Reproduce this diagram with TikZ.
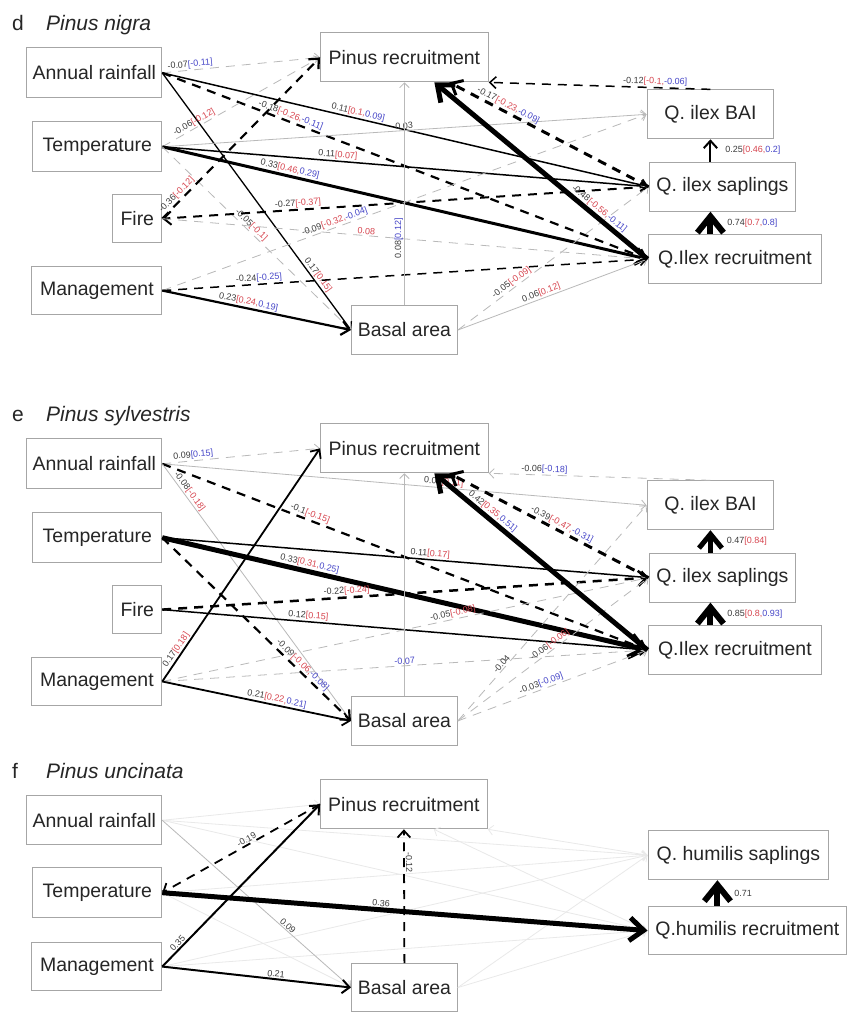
\documentclass[tikz,border=0pt]{standalone}
\usepackage{fontspec}
\setmainfont{Liberation Sans}
\usetikzlibrary{arrows.meta}
\definecolor{labk}{RGB}{60,60,60}
\definecolor{labr}{RGB}{215,70,80}
\definecolor{labb}{RGB}{70,70,200}
% coefficient label: estimate, then bracketed values in red and blue
\newcommand\lv[3]{\textcolor{labk}{#1}\textcolor{labr}{#2}\textcolor{labb}{#3}}
% the nine boxes shared by the Q. ilex panels
\newcommand\ilexnodes[1]{%
  \node[box,minimum width=135pt,minimum height=50pt] (#1AR) at (94.5,73) {Annual rainfall};
  \node[box,minimum width=129pt,minimum height=50pt] (#1T) at (97.5,147) {Temperature};
  \node[box,minimum width=49pt,minimum height=48pt] (#1F) at (137.5,219) {Fire};
  \node[box,minimum width=130pt,minimum height=48pt] (#1M) at (97,291) {Management};
  \node[box,minimum width=168pt,minimum height=49pt] (#1PR) at (405,57.5) {Pinus recruitment};
  \node[box,minimum width=106pt,minimum height=49pt] (#1BA) at (405,330.5) {Basal area};
  \node[box,minimum width=127pt,minimum height=49pt] (#1QB) at (711.5,114.5) {Q. ilex BAI};
  \node[box,minimum width=147pt,minimum height=49pt] (#1QS) at (723.5,187) {Q. ilex saplings};
  \node[box,minimum width=174pt,minimum height=49pt] (#1QR) at (736,259.5) {Q.Ilex recruitment};
}
\begin{document}
\begin{tikzpicture}[x=1pt,y=-1pt,
  >={Straight Barb[length=3pt 2.2,width=7pt 3.2]},
  box/.style={draw=gray!70,line width=1pt,fill=white,inner sep=0pt,
    font=\fontsize{19.5}{20}\selectfont,text=black!85},
  ttl/.style={anchor=base west,inner sep=0pt,font=\fontsize{21}{22}\selectfont,text=black!85},
  lab/.style={font=\fontsize{9}{9}\selectfont,sloped,above,inner sep=1pt},
  vlab/.style={font=\fontsize{9}{9}\selectfont,anchor=west,xshift=14pt,inner sep=0pt},
  ns/.style={->,draw=gray!55,line width=0.8pt},
  faint/.style={->,draw=gray!17,line width=0.8pt},
  blk/.style={->,draw=black,line width=#1},
  dsh/.style={dash pattern=on 9pt off 7pt}]

\fill[white] (0,0) rectangle (849,1012);

%% ---------------- d: Pinus nigra ----------------
\node[ttl] (dlet) at (12,31) {d};
\node[ttl] (dname) at (46,31) {\textit{Pinus nigra}};
\ilexnodes{d}

\draw[ns,dsh] (dAR.east) -- node[lab,pos=0.18]{\lv{-0.07}{}{[-0.11]}} (dPR.west);
\draw[blk=1.5pt] (dAR.east) -- node[lab,pos=0.4]{\lv{0.11}{[0.1,}{0.09]}} (dQS.west);
\draw[blk=2.2pt,dsh] (dAR.east) -- node[lab,pos=0.26]{\lv{-0.18}{[-0.26,}{-0.11]}} (dQR.west);
\draw[blk=1.3pt] (dAR.east) -- node[lab,pos=0.8]{\lv{0.17}{[0.15]}{}} (dBA.west);
\draw[ns,dsh] (dT.east) -- node[lab,pos=0.22]{\lv{-0.06}{[-0.12]}{}} (dPR.west);
\draw[ns] (dT.east) -- node[lab,pos=0.5]{\lv{0.03}{}{}} (dQB.west);
\draw[blk=1.5pt] (dT.east) -- node[lab,pos=0.36]{\lv{0.11}{[0.07]}{}} (dQS.west);
\draw[blk=3pt] (dT.east) -- node[lab,pos=0.26]{\lv{0.33}{[0.46,}{0.29]}} (dQR.west);
\draw[ns,dsh] (dT.east) -- node[lab,pos=0.45]{\lv{-0.05}{[-0.1]}{}} (dBA.west);
\draw[blk=2.2pt,dsh] (dF.east) -- node[lab,pos=0.12]{\lv{-0.36}{[-0.12]}{}} (dPR.west);
\draw[blk=2pt,dsh] (dQS.west) -- node[lab,pos=0.72]{\lv{-0.27}{[-0.37]}{}} (dF.east);
\draw[ns,dsh] (dF.east) -- node[lab,pos=0.42]{\lv{}{0.08}{}} (dQR.west);
\draw[ns,dsh] (dM.east) -- node[lab,pos=0.36]{\lv{-0.09}{[-0.32,}{-0.04]}} (dQB.west);
\draw[blk=1.5pt,dsh] (dM.east) -- node[lab,pos=0.2]{\lv{-0.24}{}{[-0.25]}} (dQR.west);
\draw[blk=2.2pt] (dM.east) -- node[lab,pos=0.45]{\lv{0.23}{[0.24,}{0.19]}} (dBA.west);
\draw[ns] (dBA.north) -- node[lab,pos=0.3]{\lv{0.08}{}{[0.12]}} (dPR.south);
\draw[ns] (dBA.east) -- node[lab,pos=0.45]{\lv{0.06}{[0.12]}{}} (dQR.west);
\draw[ns,dsh] (dBA.east) -- node[lab,pos=0.3]{\lv{-0.05}{[-0.09]}{}} (dQS.west);
\draw[blk=5pt] (dQR.west) -- node[lab,pos=0.25]{\lv{-0.48}{[-0.56,}{-0.11]}} ([xshift=30pt]dPR.south);
\draw[blk=3pt,dsh] (dQS.west) -- node[lab,pos=0.72]{\lv{-0.17}{[-0.23,}{-0.09]}} ([xshift=45pt]dPR.south);
\draw[blk=1.5pt,dsh] (dQB.north) -- node[lab,pos=0.25]{\lv{-0.12}{[-0.1,}{-0.06]}} (dPR.south east);
\draw[blk=2pt] (dQB |- dQS.north) -- node[vlab]{\lv{0.25}{[0.46,}{0.2]}} (dQB.south);
\draw[blk=6pt] (dQB |- dQR.north) -- node[vlab]{\lv{0.74}{[0.7,}{0.8]}} (dQB |- dQS.south);

%% ---------------- e: Pinus sylvestris ----------------
\begin{scope}[shift={(0,391.5)}]
\node[ttl] (elet) at (12,31) {e};
\node[ttl] (ename) at (46,31) {\textit{Pinus sylvestris}};
\ilexnodes{e}
\end{scope}

\draw[ns,dsh] (eAR.east) -- node[lab,pos=0.2]{\lv{0.09}{}{[0.15]}} (ePR.west);
\draw[ns] (eAR.east) -- node[lab,pos=0.58]{\lv{0.07}{[0.11]}{}} (eQB.west);
\draw[blk=2.2pt,dsh] (eAR.east) -- node[lab,pos=0.3]{\lv{-0.1}{[-0.15]}{}} (eQR.west);
\draw[ns] (eAR.east) -- node[lab,pos=0.12]{\lv{-0.08}{[-0.18]}{}} (eBA.west);
\draw[blk=1.5pt] (eT.east) -- node[lab,pos=0.55]{\lv{0.11}{[0.17]}{}} (eQS.west);
\draw[blk=5pt] (eT.east) -- node[lab,pos=0.3]{\lv{0.33}{[0.31,}{0.25]}} (eQR.west);
\draw[blk=2.2pt,dsh] (eT.east) -- node[lab,pos=0.72]{\lv{-0.09}{[-0.06,}{-0.08]}} (eBA.west);
\draw[blk=2.5pt,dsh] (eF.east) -- node[lab,pos=0.38]{\lv{-0.22}{[-0.24]}{}} (eQS.west);
\draw[blk=1.5pt] (eF.east) -- node[lab,pos=0.3]{\lv{0.12}{[0.15]}{}} (eQR.west);
\draw[ns,dsh] (eM.east) -- node[lab,pos=0.6]{\lv{-0.05}{[-0.08]}{}} (eQS.west);
\draw[ns,dsh] (eM.east) -- node[lab,pos=0.5]{\lv{}{}{-0.07}} (eQR.west);
\draw[blk=1.8pt] (eM.east) -- node[lab,pos=0.12]{\lv{0.17}{[0.18]}{}} (ePR.west);
\draw[blk=1.8pt] (eM.east) -- node[lab,pos=0.6]{\lv{0.21}{[0.22,}{0.21]}} (eBA.west);
\draw[ns] (eBA.north) -- (ePR.south);
\draw[ns,dsh] (eBA.east) -- node[lab,pos=0.25]{\lv{-0.04}{}{}} (eQB.west);
\draw[ns,dsh] (eBA.east) -- node[lab,pos=0.5]{\lv{-0.06}{[-0.06]}{}} (eQS.west);
\draw[ns,dsh] (eBA.east) -- node[lab,pos=0.45]{\lv{-0.03}{}{[-0.09]}} (eQR.west);
\draw[blk=5pt] (eQR.west) -- node[lab,pos=0.75]{\lv{0.42}{[0.35,}{0.51]}} ([xshift=30pt]ePR.south);
\draw[blk=3pt,dsh] (eQS.west) -- node[lab,pos=0.45]{\lv{-0.39}{[-0.47,}{-0.31]}} ([xshift=45pt]ePR.south);
\draw[ns,dsh] (eQB.north) -- node[lab,pos=0.75]{\lv{-0.06}{}{[-0.18]}} (ePR.south east);
\draw[blk=5pt] (eQB |- eQS.north) -- node[vlab]{\lv{0.47}{[0.84]}{}} (eQB.south);
\draw[blk=6pt] (eQB |- eQR.north) -- node[vlab]{\lv{0.85}{[0.8,}{0.93]}} (eQB |- eQS.south);

%% ---------------- f: Pinus uncinata ----------------
\node[ttl] (flet) at (12,780) {f};
\node[ttl] (fname) at (46,780) {\textit{Pinus uncinata}};
\node[box,minimum width=135pt,minimum height=49pt] (fAR) at (94.5,821.5) {Annual rainfall};
\node[box,minimum width=129pt,minimum height=50pt] (fT) at (97.5,894) {Temperature};
\node[box,minimum width=130pt,minimum height=48pt] (fM) at (97,968) {Management};
\node[box,minimum width=167pt,minimum height=49pt] (fPR) at (404.5,805.5) {Pinus recruitment};
\node[box,minimum width=106pt,minimum height=48pt] (fBA) at (405,989) {Basal area};
\node[box,minimum width=181pt,minimum height=49pt] (fQS) at (739.5,856.5) {Q. humilis saplings};
\node[box,minimum width=199pt,minimum height=48pt] (fQR) at (748.5,932) {Q.humilis recruitment};

\draw[faint] (fAR.east) -- (fPR.west);
\draw[faint] (fAR.east) -- (fQS.west);
\draw[faint] (fAR.east) -- (fQR.west);
\draw[faint] (fT.east) -- (fQS.west);
\draw[faint] (fT.east) -- (fBA.west);
\draw[faint] (fM.east) -- (fQS.west);
\draw[faint] (fM.east) -- (fQR.west);
\draw[faint] (fBA.east) -- (fQS.west);
\draw[faint] (fBA.east) -- (fQR.west);
\draw[faint] (fQR.west) -- ([xshift=30pt]fPR.south);
\draw[faint] (fQS.west) -- (fPR.south east);
\draw[ns] (fAR.east) -- node[lab,pos=0.65]{\lv{0.09}{}{}} (fBA.west);
\draw[blk=1.8pt,dsh] (fPR.west) -- node[lab,pos=0.45]{\lv{-0.19}{}{}} (fT.east);
\draw[blk=2pt] (fM.east) -- node[lab,pos=0.12]{\lv{0.35}{}{}} (fPR.west);
\draw[blk=2pt] (fM.east) -- node[lab,pos=0.6]{\lv{0.21}{}{}} (fBA.west);
\draw[blk=5pt] (fT.east) -- node[lab,pos=0.45]{\lv{0.36}{}{}} (fQR.west);
\draw[blk=1.8pt,dsh] (fBA.north) -- node[lab,pos=0.75]{\lv{-0.12}{}{}} (fPR.south);
\draw[blk=6pt] ([xshift=-21pt]fQS.south |- fQR.north) -- node[vlab]{\lv{0.71}{}{}} ([xshift=-21pt]fQS.south);
\end{tikzpicture}
\end{document}
